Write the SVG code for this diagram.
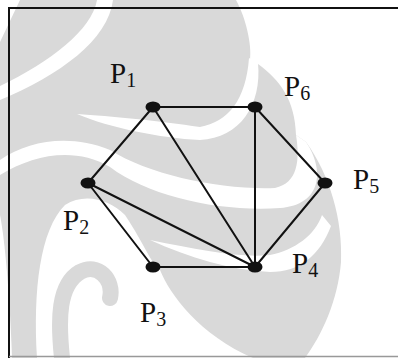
<svg xmlns="http://www.w3.org/2000/svg" width="398" height="358" viewBox="0 0 398 358">
<style>
.wm{fill:#d9d9d9}
.cut{fill:#ffffff}
.edge{stroke:#111;stroke-width:2;fill:none;stroke-linecap:round}
.dot{fill:#111}
.lbl{font-family:"Liberation Serif","Times New Roman",serif;font-size:29px;fill:#111}
.sub{font-size:20px}
</style>
<rect width="398" height="358" fill="#ffffff"/>
<g id="watermark">
<path class="wm" d="M0,0 L236,0 C246,18 252,45 250,60 L258,64 C280,80 295,100 296,135 L306,142 C330,175 343,220 341,262 C338,300 322,335 305,358 L0,358 Z"/>
<path class="cut" d="M0,0 L20,0 L0,42 Z"/>
<path class="cut" d="M97,0 L113,0 C108,40 60,75 0,100 L0,86 C50,62 92,30 97,0 Z"/>
<path class="cut" d="M77,114 C110,116 160,121 200,127 C228,122 246,100 249,58 L258,63 C262,105 240,138 200,140 C160,138 110,128 77,114 Z"/>
<path class="cut" d="M0,160 C30,140 70,134 110,150 C150,175 220,190 275,188 C298,183 300,160 296,135 L306,142 C325,170 322,205 280,208 C220,212 150,197 110,167 C75,147 35,154 0,175 Z"/>
<path class="cut" d="M150,240 C200,250 240,258 270,255 C295,250 315,235 322,215 L331,226 C320,255 300,272 270,272 C230,270 190,258 150,240 Z"/>
<path class="cut" d="M37,358 C33,290 40,230 65,205 C85,192 110,200 125,215 C145,245 150,262 160,270 C170,295 200,335 253,358 Z"/>
<path class="cut" d="M0,215 C5,240 10,300 12,358 L0,358 Z"/>
<path d="M62,358 C58,320 58,285 80,272 C98,262 114,280 110,298" fill="none" stroke="#d9d9d9" stroke-width="16" stroke-linecap="round"/>
</g>
<g id="frame">
<path d="M9,358 L9,8 L398,8" fill="none" stroke="#111" stroke-width="2"/>
<path d="M9,356.5 L398,356.5" fill="none" stroke="#999" stroke-width="1.5"/>
</g>
<g id="connectors">
<line class="edge" x1="153" y1="107" x2="255" y2="107"/>
<line class="edge" x1="153" y1="107" x2="88" y2="183"/>
<line class="edge" x1="153" y1="107" x2="255" y2="267"/>
<line class="edge" x1="255" y1="107" x2="255" y2="267"/>
<line class="edge" x1="255" y1="107" x2="325" y2="183"/>
<line class="edge" x1="325" y1="183" x2="255" y2="267"/>
<line class="edge" x1="88" y1="183" x2="255" y2="267"/>
<line class="edge" x1="88" y1="183" x2="153" y2="267"/>
<line class="edge" x1="153" y1="267" x2="255" y2="267"/>
</g>
<g id="P1"><ellipse class="dot" cx="153" cy="107" rx="7.5" ry="5.5"/><text class="lbl" x="110" y="83">P<tspan class="sub" dy="4">1</tspan></text></g>
<g id="P2"><ellipse class="dot" cx="88" cy="183" rx="7.5" ry="5.5"/><text class="lbl" x="63" y="230">P<tspan class="sub" dy="4">2</tspan></text></g>
<g id="P3"><ellipse class="dot" cx="153" cy="267" rx="7.5" ry="5.5"/><text class="lbl" x="140" y="322">P<tspan class="sub" dy="4">3</tspan></text></g>
<g id="P4"><ellipse class="dot" cx="255" cy="267" rx="7.5" ry="5.5"/><text class="lbl" x="292" y="273">P<tspan class="sub" dy="4">4</tspan></text></g>
<g id="P5"><ellipse class="dot" cx="325" cy="183" rx="7.5" ry="5.5"/><text class="lbl" x="353" y="189">P<tspan class="sub" dy="4">5</tspan></text></g>
<g id="P6"><ellipse class="dot" cx="255" cy="107" rx="7.5" ry="5.5"/><text class="lbl" x="284" y="96">P<tspan class="sub" dy="4">6</tspan></text></g>
</svg>
